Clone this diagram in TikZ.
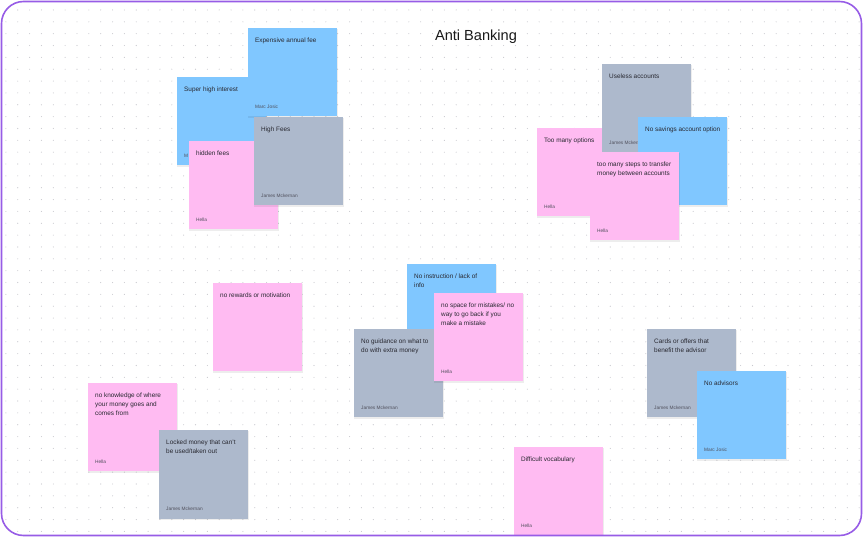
\documentclass[tikz,border=0pt]{standalone}
\usepackage{fontspec}
\setmainfont{Liberation Sans}
\definecolor{sblue}{RGB}{128,199,255}
\definecolor{spink}{RGB}{255,187,242}
\definecolor{sgray}{RGB}{173,185,204}
\definecolor{framec}{RGB}{151,92,230}
\definecolor{dotc}{RGB}{200,200,206}
\definecolor{txtc}{RGB}{40,40,48}
\definecolor{authc}{RGB}{80,80,92}
\newcommand\stickynote[6]{%
  \fill[black,opacity=0.07] ({#2+0.3},{#3+1.2}) rectangle ({#2+89.5},{#3+90.3});
  \node[notebox,#4] (#1) at (#2,#3) {};
  \node[notetext] (#1t) at ([xshift=7pt,yshift=-9.5pt]#1.north west) {#5};
  \node[noteauth] (#1a) at ([xshift=7pt,yshift=8pt]#1.south west) {#6};
}
\begin{document}
\begin{tikzpicture}[x=1pt,y=-1pt,
  notebox/.style={rectangle,anchor=north west,minimum width=88.5pt,minimum height=88.5pt,inner sep=0pt,outer sep=0pt},
  bluenote/.style={fill=sblue},
  pinknote/.style={fill=spink},
  graynote/.style={fill=sgray},
  notetext/.style={anchor=north west,inner sep=0pt,align=left,text=txtc,font=\fontsize{6.4}{9}\selectfont},
  noteauth/.style={anchor=south west,inner sep=0pt,text=authc,font=\fontsize{4.8}{5.5}\selectfont},
  titlestyle/.style={inner sep=0pt,text=black!90,font=\fontsize{14.6}{17}\selectfont}]
\useasboundingbox (0,0) rectangle (863,537);
\fill[white] (0,0) rectangle (863,537);
\begin{scope}
\clip[rounded corners=22pt] (1.5,1.5) rectangle (861.5,535.5);
\foreach \i in {0,...,72}{
  \foreach \j in {0,...,44}{
    \fill[dotc] ({5.9+11.85*\i},{10+11.85*\j}) circle (0.55pt);
  }
}
\node[titlestyle] (title) at (476,36.8) {Anti Banking};
% top-left cluster
\stickynote{sh}{177}{77}{bluenote}{Super high interest}{M}
\stickynote{ea}{248}{28}{bluenote}{Expensive annual fee}{Marc Josic}
\stickynote{hf}{189}{141}{pinknote}{hidden fees}{Hella}
\stickynote{hi}{254}{117}{graynote}{High Fees}{James Mckernan}
% top-right cluster
\stickynote{tmo}{537}{128}{pinknote}{Too many options}{Hella}
\stickynote{ua}{602}{64}{graynote}{Useless accounts}{James Mckernan}
\stickynote{ns}{638}{117}{bluenote}{No savings account option}{Marc Josic}
\stickynote{tms}{590}{152}{pinknote}{too many steps to transfer\\money between accounts}{Hella}
% middle cluster
\stickynote{ni}{407}{264}{bluenote}{No instruction / lack of\\info}{}
\stickynote{ng}{354}{329}{graynote}{No guidance on what to\\do with extra money}{James Mckernan}
\stickynote{nsm}{434}{293}{pinknote}{no space for mistakes/ no\\way to go back if you\\make a mistake}{Hella}
% left
\stickynote{nr}{213}{283}{pinknote}{no rewards or motivation}{}
\stickynote{nk}{88}{383}{pinknote}{no knowledge of where\\your money goes and\\comes from}{Hella}
\stickynote{lm}{159}{430}{graynote}{Locked money that can't\\be used/taken out}{James Mckernan}
% right
\stickynote{co}{647}{329}{graynote}{Cards or offers that\\benefit the advisor}{James Mckernan}
\stickynote{na}{697}{371}{bluenote}{No advisors}{Marc Josic}
% bottom
\stickynote{dv}{514}{447}{pinknote}{Difficult vocabulary}{Hella}
\end{scope}
\draw[framec,line width=1.6pt,rounded corners=22pt] (1.5,1.5) rectangle (861.5,535.5);
\end{tikzpicture}
\end{document}
